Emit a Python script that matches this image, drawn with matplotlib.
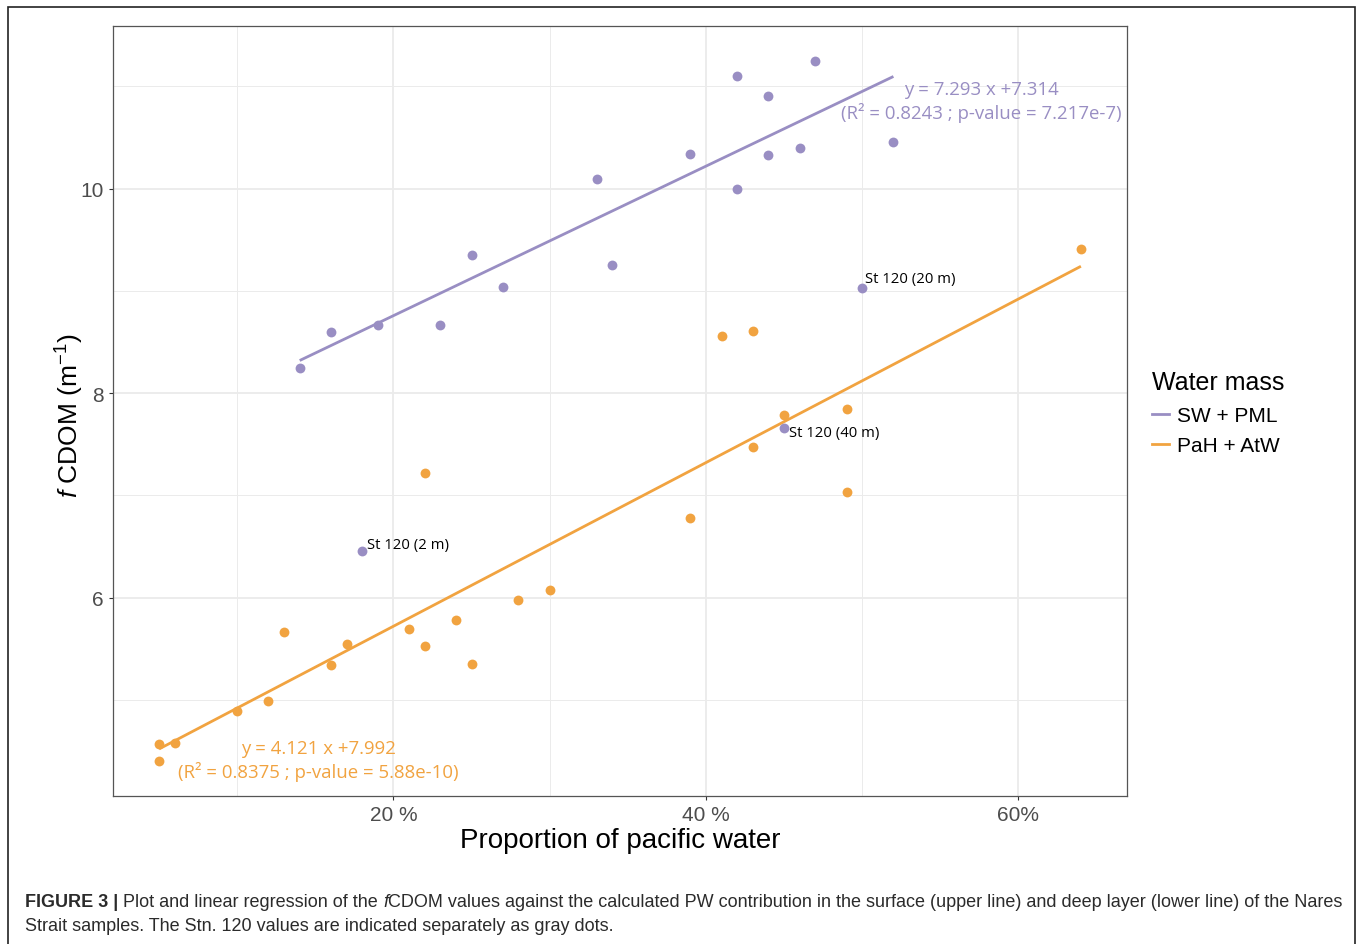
import numpy as np
import matplotlib
matplotlib.use('Agg')
import matplotlib.pyplot as plt
from matplotlib.lines import Line2D
from matplotlib.patches import Rectangle
from matplotlib.transforms import IdentityTransform

# =============================================================================
# Data
# =============================================================================

# surface layer, SW + PML
sw_pct = [14, 16, 19, 23, 25, 27, 33, 34, 39, 42, 42, 44, 44, 46, 47, 52]
sw_cdom = [8.25, 8.60, 8.67, 8.67, 9.35, 9.04, 10.09, 9.25, 10.34, 11.10,
           10.00, 10.91, 10.33, 10.40, 11.25, 10.46]

# deep layer, PaH + AtW
pah_pct = [5, 5, 6, 10, 12, 13, 16, 17, 21, 22, 22, 24, 25, 28, 30, 39,
           41, 43, 43, 45, 49, 49, 64]
pah_cdom = [4.57, 4.40, 4.58, 4.89, 4.99, 5.66, 5.34, 5.55, 5.69, 5.53, 7.22,
            5.78, 5.35, 5.98, 6.07, 6.78, 8.555, 8.61, 7.47, 7.79, 7.84, 7.03, 9.41]

# station 120, shown separately
st120_pct = [18, 50, 45]
st120_cdom = [6.46, 9.03, 7.66]
st120_labels = ['St 120 (2 m)', 'St 120 (20 m)', 'St 120 (40 m)']

sw_eq = 'y = 7.293 x +7.314\n(R\u00b2 = 0.8243 ; p-value = 7.217e-7)'
pah_eq = 'y = 4.121 x +7.992\n(R\u00b2 = 0.8375 ; p-value = 5.88e-10)'

x_ticks = [20, 40, 60]
x_ticklabels = ['20 %', '40 %', '60%']
y_ticks = [6, 8, 10]

purple = '#998ec3'
orange = '#f1a340'

# =============================================================================
# Fonts
# =============================================================================

sans = 'Liberation Sans'
annot = 'Open Sans'

plt.rcParams['font.family'] = [sans, 'DejaVu Sans']
plt.rcParams['mathtext.fontset'] = 'custom'
plt.rcParams['mathtext.rm'] = sans
plt.rcParams['mathtext.it'] = sans + ':italic'

# =============================================================================
# Figure
# =============================================================================

W, H = 1357, 945
fig = plt.figure(figsize=(W / 100, H / 100), dpi=100)
ax = fig.add_axes([113 / W, 1 - 797 / H, (1127 - 113) / W, (797 - 27) / H])

# linear fits
for pct, cdom, col in [(sw_pct, sw_cdom, purple), (pah_pct, pah_cdom, orange)]:
    xf = np.array(pct) / 100
    b, a = np.polyfit(xf, np.array(cdom), 1)
    xx = np.array([xf.min(), xf.max()])
    ax.plot(xx * 100, a + b * xx, c=col, lw=2.0, zorder=3, solid_capstyle='butt')

ax.scatter(sw_pct, sw_cdom, s=50, c=purple, lw=0, zorder=4)
ax.scatter(pah_pct, pah_cdom, s=50, c=orange, lw=0, zorder=4)
ax.scatter(st120_pct, st120_cdom, s=50, c=purple, lw=0, zorder=4)

offsets = [(5, 6), (3, 9), (5, -5)]
for px, py, lab, off in zip(st120_pct, st120_cdom, st120_labels, offsets):
    ax.annotate(lab, (px, py), xytext=off, textcoords='offset pixels',
                fontsize=10.7, family=annot, ha='left', va='center', color='black')

ax.text(57.64, 10.86, sw_eq, color=purple, fontsize=13.4, family=annot,
        ha='center', va='center', linespacing=1.25)
ax.text(15.2, 4.41, pah_eq, color=orange, fontsize=13.4, family=annot,
        ha='center', va='center', linespacing=1.25)

ax.set_xlim(2.05, 66.95)
ax.set_ylim(4.06, 11.59)
ax.set_xticks(x_ticks)
ax.set_xticklabels(x_ticklabels)
ax.set_yticks(y_ticks)
ax.set_xticks([10, 30, 50], minor=True)
ax.set_yticks([5, 7, 9, 11], minor=True)
ax.tick_params(which='major', labelsize=15, labelcolor='#4d4d4d', color='#333333',
               length=3, width=0.8)
ax.tick_params(which='minor', length=0)
ax.grid(which='major', color='#ebebeb', lw=1.3, zorder=0)
ax.grid(which='minor', color='#ebebeb', lw=0.7, zorder=0)
ax.set_axisbelow(True)
for sp in ax.spines.values():
    sp.set_color('#555555')
    sp.set_linewidth(0.9)

ax.set_xlabel('Proportion of pacific water', fontsize=20, labelpad=2)
ax.set_ylabel(r'$f$ CDOM (m$^{-1}$)', fontsize=19)
ax.yaxis.set_label_coords((86 - 113) / 1014, (797 - 416) / 770)

handles = [Line2D([], [], color=purple, lw=2), Line2D([], [], color=orange, lw=2)]
leg = fig.legend(handles, ['SW + PML', 'PaH + AtW'], title='Water mass',
                 loc='upper left', bbox_to_anchor=(1142 / W, 1 - 361 / H),
                 frameon=False, fontsize=15, title_fontsize=18,
                 handlelength=0.8, handletextpad=0.4, labelspacing=0.55,
                 borderpad=0, alignment='left')

# outer frame
fig.patches.append(Rectangle((8, -10), 1347, 947, transform=IdentityTransform(),
                             fill=False, ec='#222222', lw=1.2))

# caption, written piece by piece for the bold and italic parts
renderer = fig.canvas.get_renderer()


def width_of(s, size, **kw):
    t = fig.text(0, 0, '|' + s + '|', fontsize=size, family=sans, **kw)
    t2 = fig.text(0, 0, '||', fontsize=size, family=sans, **kw)
    w = t.get_window_extent(renderer).width - t2.get_window_extent(renderer).width
    t.remove()
    t2.remove()
    return w


line1 = [('FIGURE 3 | ', dict(weight='bold')),
         ('Plot and linear regression of the ', {}),
         ('f', dict(style='italic')),
         ('CDOM values against the calculated PW contribution in the surface '
          '(upper line) and deep layer (lower line) of the Nares', {})]
line2 = [('Strait samples. The Stn. 120 values are indicated separately as gray dots.', {})]

size = 13
total = sum(width_of(s, size, **kw) for s, kw in line1)
size = size * 1312 / total

for pieces, ypix in [(line1, H - 903), (line2, H - 927)]:
    x = 25
    for s, kw in pieces:
        fig.text(x, ypix, s, fontsize=size, family=sans,
                 color='#2b2b2b', va='center', ha='left',
                 transform=IdentityTransform(), **kw)
        x += width_of(s, size, **kw)

fig.savefig('out.png', dpi=100)
